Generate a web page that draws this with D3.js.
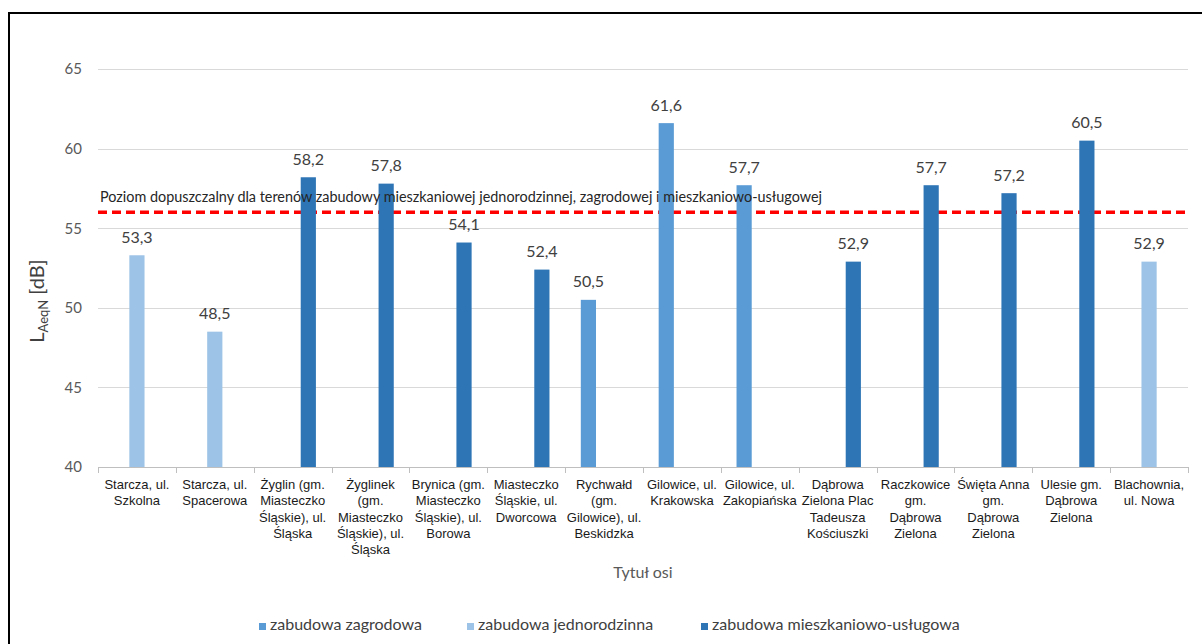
<!DOCTYPE html>
<html>
<head>
<meta charset="utf-8">
<script src="https://cdn.jsdelivr.net/npm/d3@7"></script>
<style>
  html, body { margin: 0; padding: 0; background: #fff; }
  svg { display: block; }
</style>
</head>
<body>
<svg id="chart" width="1202" height="644"></svg>
<script>
// Measurement points (category labels, wrapped into lines)
const categories = [
  ["Starcza, ul.", "Szkolna"],
  ["Starcza, ul.", "Spacerowa"],
  ["Żyglin (gm.", "Miasteczko", "Śląskie), ul.", "Śląska"],
  ["Żyglinek", "(gm.", "Miasteczko", "Śląskie), ul.", "Śląska"],
  ["Brynica (gm.", "Miasteczko", "Śląskie), ul.", "Borowa"],
  ["Miasteczko", "Śląskie, ul.", "Dworcowa"],
  ["Rychwałd", "(gm.", "Gilowice), ul.", "Beskidzka"],
  ["Gilowice, ul.", "Krakowska"],
  ["Gilowice, ul.", "Zakopiańska"],
  ["Dąbrowa", "Zielona Plac", "Tadeusza", "Kościuszki"],
  ["Raczkowice", "gm.", "Dąbrowa", "Zielona"],
  ["Święta Anna", "gm.", "Dąbrowa", "Zielona"],
  ["Ulesie gm.", "Dąbrowa", "Zielona"],
  ["Blachownia,", "ul. Nowa"]
];

// Series names
const seriesNames = ["zabudowa zagrodowa", "zabudowa jednorodzinna", "zabudowa mieszkaniowo-usługowa"];

// Night-time LAeqN levels [dB] per series (null = no measurement)
const zagrodowa      = [null, null, null, null, null, null, 50.5, 61.6, 57.7, null, null, null, null, null];
const jednorodzinna  = [53.3, 48.5, null, null, null, null, null, null, null, null, null, null, null, 52.9];
const mieszkUslugowa = [null, null, 58.2, 57.8, 54.1, 52.4, null, null, null, 52.9, 57.7, 57.2, 60.5, null];

// Permissible level
const limitValue = 56;
const limitLabel = "Poziom dopuszczalny dla terenów zabudowy mieszkaniowej jednorodzinnej, zagrodowej i mieszkaniowo-usługowej";

// Y axis ticks
const yTicks = [40, 45, 50, 55, 60, 65];

const seriesValues = [zagrodowa, jednorodzinna, mieszkUslugowa];
const seriesColors = ["#5B9BD5", "#9DC3E6", "#2E75B6"];

const svg = d3.select("#chart");
const plot = { left: 98, right: 1188, top: 69, bottom: 467 };
const numFont = "Lato, 'Open Sans', sans-serif";

// Outer frame
svg.append("rect")
  .attr("x", 9).attr("y", 13)
  .attr("width", 1300).attr("height", 700)
  .attr("fill", "none").attr("stroke", "#000").attr("stroke-width", 2);

const catIdx = categories.map((d, i) => i);
const x = d3.scaleBand().domain(catIdx).range([plot.left, plot.right]).paddingInner(0).paddingOuter(0);
const xInner = d3.scaleBand().domain(d3.range(seriesNames.length))
  .range([0, x.bandwidth()]).paddingInner(0.03).paddingOuter(1);
const y = d3.scaleLinear().domain([40, 65]).range([plot.bottom, plot.top]);

// Gridlines
svg.append("g")
  .selectAll("line").data(yTicks.filter(t => t > 40)).join("line")
  .attr("x1", plot.left).attr("x2", plot.right)
  .attr("y1", d => Math.round(y(d)) + 0.5).attr("y2", d => Math.round(y(d)) + 0.5)
  .attr("stroke", "#D9D9D9").attr("stroke-width", 1);

// Y axis tick labels
const yAxis = d3.axisLeft(y).tickValues(yTicks).tickSize(0).tickPadding(0).tickFormat(d3.format("d"));
const gy = svg.append("g").attr("transform", `translate(${82},0)`).call(yAxis);
gy.select(".domain").remove();
gy.selectAll("text")
  .attr("font-family", numFont).attr("font-size", 15).attr("fill", "#595959");

// X axis line with category separators
const xAxisG = svg.append("g");
xAxisG.append("line")
  .attr("x1", plot.left).attr("x2", plot.right)
  .attr("y1", plot.bottom + 0.5).attr("y2", plot.bottom + 0.5)
  .attr("stroke", "#BFBFBF").attr("stroke-width", 1);
const boundaries = catIdx.map(i => x(i)).concat([plot.right]);
xAxisG.selectAll("line.sep").data(boundaries).join("line").attr("class", "sep")
  .attr("x1", d => Math.round(d) + 0.5).attr("x2", d => Math.round(d) + 0.5)
  .attr("y1", plot.bottom).attr("y2", plot.bottom + 6)
  .attr("stroke", "#BFBFBF").attr("stroke-width", 1);

// Category labels
const catLabels = xAxisG.selectAll("text.cat").data(categories).join("text").attr("class", "cat")
  .attr("x", (d, i) => x(i) + x.bandwidth() / 2)
  .attr("y", 489)
  .attr("text-anchor", "middle")
  .attr("font-family", "'Liberation Sans', Arial, sans-serif")
  .attr("font-size", 13).attr("fill", "#1a1a1a");
catLabels.selectAll("tspan").data(d => d).join("tspan")
  .attr("x", function () { return this.parentNode.getAttribute("x"); })
  .attr("dy", (d, j) => j === 0 ? 0 : 16.3)
  .text(d => d);

// Permissible level line (behind bars)
svg.append("line")
  .attr("x1", plot.left).attr("x2", plot.right)
  .attr("y1", y(limitValue)).attr("y2", y(limitValue))
  .attr("stroke", "#FF0000").attr("stroke-width", 3.5)
  .attr("stroke-dasharray", "9,5");

// Bars
const bars = [];
seriesValues.forEach((vals, s) => {
  vals.forEach((v, i) => { if (v !== null) bars.push({ s, i, v }); });
});
svg.append("g").selectAll("rect").data(bars).join("rect")
  .attr("x", d => x(d.i) + xInner(d.s))
  .attr("width", xInner.bandwidth())
  .attr("y", d => y(d.v))
  .attr("height", d => y(40) - y(d.v))
  .attr("fill", d => seriesColors[d.s]);

// Value labels
const fmt = v => d3.format(".1f")(v).replace(".", ",");
svg.append("g").selectAll("text").data(bars).join("text")
  .attr("x", d => x(d.i) + xInner(d.s) + xInner.bandwidth() / 2)
  .attr("y", d => y(d.v) - 12.5)
  .attr("text-anchor", "middle")
  .attr("font-family", numFont).attr("font-size", 16).attr("fill", "#404040")
  .text(d => fmt(d.v));

// Permissible level label
svg.append("text")
  .attr("x", 100).attr("y", 201.5)
  .attr("font-family", numFont).attr("font-size", 14.5).attr("fill", "#262626")
  .attr("textLength", 722).attr("lengthAdjust", "spacingAndGlyphs")
  .text(limitLabel);

// Y axis title
const yTitle = svg.append("text")
  .attr("transform", "translate(44,301) rotate(-90)")
  .attr("text-anchor", "middle")
  .attr("font-family", numFont).attr("font-size", 20).attr("fill", "#404040");
yTitle.append("tspan").text("L");
yTitle.append("tspan").attr("font-size", 13).attr("dy", 4).text("AeqN");
yTitle.append("tspan").attr("dy", -4).text(" [dB]");

// X axis title
svg.append("text")
  .attr("x", 643).attr("y", 578)
  .attr("text-anchor", "middle")
  .attr("font-family", numFont).attr("font-size", 16).attr("fill", "#595959")
  .text("Tytuł osi");

// Legend
const legendX = [259, 467, 701];
const lg = svg.append("g").selectAll("g").data(seriesNames).join("g")
  .attr("transform", (d, i) => `translate(${legendX[i]},0)`);
lg.append("rect").attr("x", 0).attr("y", 623).attr("width", 7).attr("height", 7)
  .attr("fill", (d, i) => seriesColors[i]);
lg.append("text").attr("x", 11).attr("y", 630)
  .attr("font-family", numFont).attr("font-size", 16).attr("fill", "#404040")
  .text(d => d);
</script>
</body>
</html>
